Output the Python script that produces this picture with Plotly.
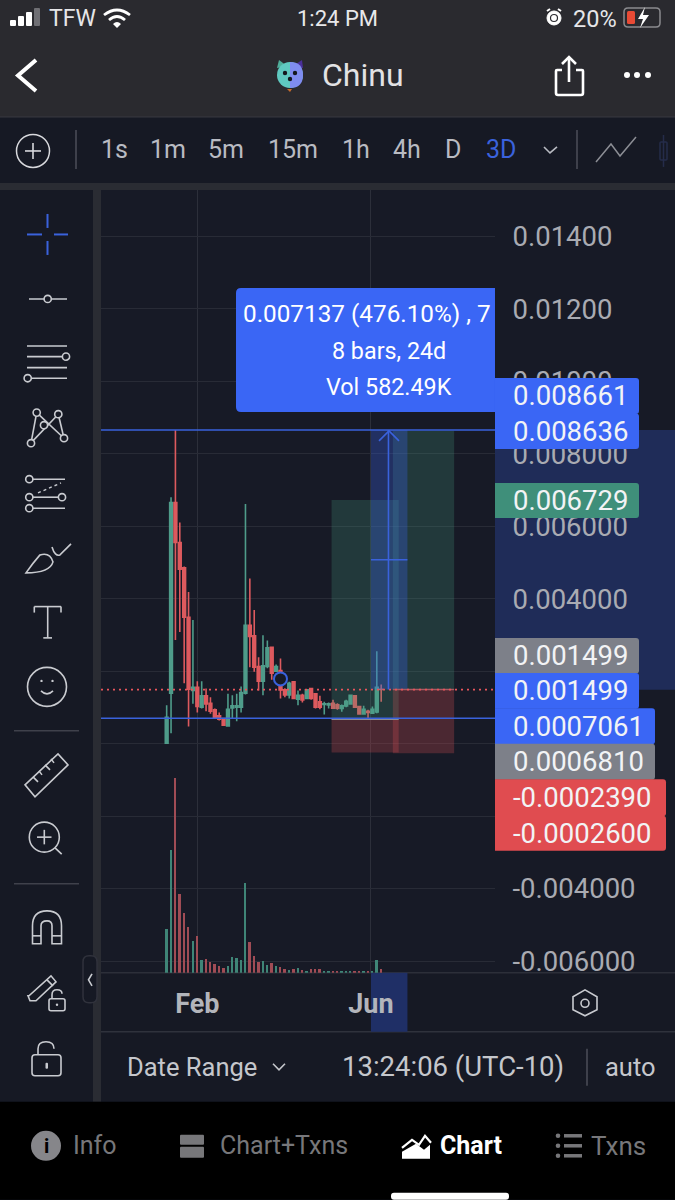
import re
import pandas as pd
import plotly.graph_objects as go

# ---------- data ----------
opens = [0.00002,0.001398,0.006658,0.005554,0.004855,0.003495,0.001472,0.001564,0.001012,0.001325,
         0.001122,0.000938,0.000773,0.000699,0.000497,0.000994,0.001012,0.001012,0.001398,0.003274,
         0.00298,0.002134,0.001729,0.002134,0.002667,0.002005,0.002023,0.00149,0.001352,0.001711,
         0.001233,0.001343,0.001251,0.001527,0.00138,0.001159,0.001085,0.001076,0.001122,0.001076,
         0.000975,0.001049,0.001104,0.001325,0.00103,0.000828,0.000902,0.000847,0.000883,0.001508]
highs = [0.001067,0.006805,0.008661,0.006106,0.004892,0.004193,0.003421,0.001729,0.001729,0.001527,
         0.001288,0.000975,0.000865,0.000718,0.00138,0.001343,0.00138,0.001582,0.006621,0.004561,
         0.003697,0.002391,0.002998,0.002851,0.002685,0.002189,0.002354,0.001536,0.001711,0.001729,
         0.001472,0.00138,0.001508,0.001545,0.001398,0.001325,0.001159,0.001141,0.001214,0.001122,
         0.001085,0.001214,0.001352,0.001343,0.001049,0.001049,0.000938,0.00103,0.002557,0.001637]
lows  = [0.00002,0.000295,0.002869,0.00309,0.001674,0.000479,0.001104,0.000865,0.000975,0.000902,
         0.000828,0.000699,0.000644,0.000497,0.000479,0.000699,0.000626,0.000865,0.001361,0.002115,
         0.001987,0.001472,0.001343,0.002088,0.001766,0.001987,0.001251,0.001288,0.001251,0.001233,
         0.001067,0.001141,0.001233,0.001214,0.000975,0.000957,0.00081,0.000975,0.000975,0.000938,
         0.000883,0.001012,0.001095,0.000994,0.00081,0.00081,0.000681,0.000828,0.000847,0.001159]
closes = [0.000736,0.006658,0.005554,0.004819,0.003495,0.001508,0.001564,0.00103,0.001325,0.001104,
          0.000902,0.000736,0.000681,0.000515,0.000957,0.001049,0.001049,0.001416,0.003274,0.002961,
          0.002115,0.001729,0.002152,0.002649,0.00195,0.002134,0.00149,0.001352,0.001674,0.001251,
          0.001343,0.001214,0.00149,0.001251,0.001012,0.001012,0.001104,0.001104,0.000984,0.000984,
          0.001049,0.001177,0.001343,0.001012,0.000828,0.000957,0.000865,0.000957,0.001564,0.001499]
volumes_k = [894,2505,3967,1611,1219,934,657,758,257,291,
             223,190,135,108,135,332,298,271,1828,623,
             352,230,244,169,196,149,129,81,68,74,
             108,61,47,88,81,81,47,41,41,41,
             41,41,34,41,41,41,41,41,257,81]
start_date = "2021-01-11"
month_ticks = ["2021-02-01", "2021-05-31"]
month_labels = ["Feb", "Jun"]
price_ticks = [0.014,0.012,0.01,0.008,0.006,0.004,0.002,0,-0.002,-0.004,-0.006]
price_labels = ["0.01400","0.01200","0.01000","0.008000","0.006000","0.004000","0.002000","0.000000","-0.002000","-0.004000","-0.006000"]

entry_a, top_a, stop_a, stop_line_a = 0.0007061, 0.006729, -0.0002390, 0.0006810
entry_b, top_b, stop_b = 0.001499, 0.008636, -0.0002600
range_top, range_bottom = 0.008661, 0.001499
last_price = 0.001499
circle_date, circle_price = "2021-03-30", 0.001793
tags = [("0.008661",378,414,639,"#3a66f5"),("0.008636",413.5,449,639,"#3a66f5"),
        ("0.006729",483,518,639,"#3f8f7a"),("0.001499",638,673.5,639,"#7d8089"),
        ("0.001499",673,709,639,"#3a66f5"),("0.0007061",708.5,744.5,655,"#3a66f5"),
        ("0.0006810",744,780,655,"#7d8089"),("-0.0002390",779.5,816.5,666,"#e04c50"),
        ("-0.0002600",816,851,666,"#e04c50")]
intervals = [("1s",114),("1m",168),("5m",226),("15m",293),("1h",356),("4h",407),("D",453)]

# ---------- palette ----------
W, H = 675, 1200
KY = 1.004
BG = "#161924"; HEADER = "#2a2a2f"; GAP = "#2a2c33"; GRID = "#282b36"
UP = "#4f9c8a"; DOWN = "#dd5a5e"; UPV = "#3f8577"; DOWNV = "#a04c55"
BLUE = "#3a62dc"; ICON = "#c9cbd0"; FONT = "Roboto"

dates = pd.date_range(start_date, periods=len(opens), freq="3D")
shapes, notes = [], []

def px(x): return x / W
def py(y): return 1 - y * KY / H

def path(d, color=None, w=1.6, fill=None, layer="above"):
    toks = re.findall(r"[MLQCZ]|-?\d+\.?\d*", d)
    out, n = [], 0
    for t in toks:
        if t.isalpha():
            out.append(t)
        else:
            out.append(f"{px(float(t)) if n % 2 == 0 else py(float(t)):.5f}")
            n += 1
    s = dict(type="path", xref="paper", yref="paper", path=" ".join(out), layer=layer,
             line=dict(color=color or "rgba(0,0,0,0)", width=w if color else 0))
    if fill: s["fillcolor"] = fill
    shapes.append(s)

def line(x0, y0, x1, y1, color=ICON, w=1.6, layer="above", dash=None):
    shapes.append(dict(type="line", xref="paper", yref="paper", x0=px(x0), x1=px(x1), y0=py(y0), y1=py(y1),
                       layer=layer, line=dict(color=color, width=w, dash=dash or "solid")))

def rect(x0, y0, x1, y1, fill, layer="below", color=None, w=0):
    shapes.append(dict(type="rect", xref="paper", yref="paper", x0=px(x0), x1=px(x1), y0=py(y0), y1=py(y1),
                       layer=layer, fillcolor=fill, line=dict(color=color or "rgba(0,0,0,0)", width=w)))

def circ(cx, cy, r, color=ICON, w=1.6, fill=None):
    shapes.append(dict(type="circle", xref="paper", yref="paper", x0=px(cx-r), x1=px(cx+r), y0=py(cy-r), y1=py(cy+r),
                       layer="above", fillcolor=fill or "rgba(0,0,0,0)", line=dict(color=color or "rgba(0,0,0,0)", width=w if color else 0)))

def text(x, y, s, size, color, anchor="left", bold=False, family=FONT):
    notes.append(dict(xref="paper", yref="paper", x=px(x), y=py(y), text=f"<b>{s}</b>" if bold else s,
                      showarrow=False, xanchor=anchor, yanchor="middle", borderpad=0, borderwidth=0,
                      font=dict(family=family, size=size, color=color)))

def rrect(x0, y0, x1, y1, r, **kw):
    path(f"M {x0+r} {y0} L {x1-r} {y0} Q {x1} {y0} {x1} {y0+r} L {x1} {y1-r} Q {x1} {y1} {x1-r} {y1} "
         f"L {x0+r} {y1} Q {x0} {y1} {x0} {y1-r} L {x0} {y0+r} Q {x0} {y0} {x0+r} {y0} Z", **kw)

# ---------- panels ----------
rect(0, 0, W, 117, HEADER)
rect(0, 117, W, 183, BG)
rect(0, 183, W, 190, GAP)
rect(0, 190, 93, 1102, BG)
rect(93, 190, 101, 1102, GAP)
rect(101, 973, W, 1102, BG)
rect(495, 190, W, 973, "#171a26")
rect(0, 1102, W, H, "#000000")
rect(495, 430, W, 690, "#1f2c58")
line(101, 973, W, 973, "#2c2f39", 1.5, "below")
line(101, 1032, W, 1032, "#2f323c", 1.5, "below")
line(0, 117, W, 117, "#3a3a40", 1, "below")
# x-axis range highlight
shapes.append(dict(type="rect", xref="x", yref="paper", x0="2021-05-31", x1="2021-06-25", y0=py(1032), y1=py(973),
                   layer="below", fillcolor="#1f2f66", line=dict(width=0)))

# ---------- chart drawing tools (data coordinates) ----------
def zone(x0, x1, y0, y1, fill, lc=None):
    shapes.append(dict(type="rect", xref="x", yref="y", x0=x0, x1=x1, y0=y0, y1=y1, layer="above",
                       fillcolor=fill, line=dict(color=lc or "rgba(0,0,0,0)", width=1 if lc else 0)))

def seg(x0, x1, y0, y1, color, w=1.5, dash="solid"):
    shapes.append(dict(type="line", xref="x", yref="y", x0=x0, x1=x1, y0=y0, y1=y1, layer="above",
                       line=dict(color=color, width=w, dash=dash)))

A0, A1 = "2021-05-04", "2021-06-19"
B0, B1 = "2021-06-15", "2021-07-27"
R0, R1, RM = "2021-05-31", "2021-06-25", "2021-06-12"
XL, XR = "2020-11-27", "2021-08-24"

zone(A0, A1, entry_a, top_a, "rgba(70,160,130,0.24)")
zone(A0, A1, stop_a, entry_a, "rgba(224,80,85,0.26)")
zone(B0, B1, entry_b, top_b, "rgba(70,160,130,0.24)")
zone(B0, B1, stop_b, entry_b, "rgba(224,80,85,0.26)")
zone(R0, R1, range_bottom, range_top, "rgba(58,98,240,0.30)")
seg(A0, A1, stop_line_a, stop_line_a, "#8a8c95", 1.5)
seg(B0, B1, entry_b, entry_b, "#a85a62", 1.5)
seg(XL, XR, last_price, last_price, "#e8555b", 1.8, "2px,4px")
seg(XL, XR, range_top, range_top, BLUE, 1.6)
seg(XL, XR, entry_a, entry_a, BLUE, 1.6)
seg(RM, RM, range_bottom, range_top, BLUE, 1.6)
seg(R0, R1, (range_top + range_bottom) / 2, (range_top + range_bottom) / 2, BLUE, 1.6)
path("M 379 441 L 389 431 L 399 441", color=BLUE, w=1.6)

# ---------- tooltip + tags ----------
path("M 241 288 L 495 288 L 495 412 L 241 412 Q 236 412 236 407 L 236 293 Q 236 288 241 288 Z", fill="#3a66f5")
text(243, 314, "0.007137 (476.10%) , 7", 24.3, "#ffffff")
text(388.5, 351, "8 bars, 24d", 23.3, "#ffffff", "center")
text(388.5, 387, "Vol 582.49K", 23.3, "#ffffff", "center")
for label, y0, y1, x1, c in tags:
    path(f"M 495 {y0} L {x1-3} {y0} Q {x1} {y0} {x1} {y0+3} L {x1} {y1-3} Q {x1} {y1} {x1-3} {y1} L 495 {y1} Z", fill=c)
    text(512.5, (y0 + y1) / 2, label, 27.5, "#f2f3f5")

# ---------- status bar ----------
for x, h, c in [(13, 6, "#ffffff"), (21, 10, "#ffffff"), (29, 14, "#ffffff"), (37, 18, "#6f6f74")]:
    rrect(x - 3, 26 - h, x + 3, 26, 1, fill=c)
text(49, 19, "TFW", 23, "#e6e6e8")
path("M 104 15 Q 117 5 130 15", color="#ffffff", w=2.8)
path("M 109 20 Q 117 13 125 20", color="#ffffff", w=2.8)
path("M 113 24 L 117 28 L 121 24 Q 117 20 113 24 Z", fill="#ffffff")
text(337, 19, "1:24 PM", 22, "#e8e8ea", "center")
circ(554, 18, 7, "#ffffff", 1, "#ffffff")
circ(554, 18, 3.5, "#2a2a2f", 1.2, "#ffffff")
line(547, 11, 550, 9, "#ffffff", 2); line(561, 11, 558, 9, "#ffffff", 2)
text(573, 19, "20%", 23.5, "#e6e6e8")
rrect(624, 8, 660, 27, 4, color="#8a8a8e", w=1.5)
rrect(627, 11, 635, 24, 1.5, fill="#e84a35")
path("M 645 7 L 638 19 L 643 19 L 640 28 L 649 15 L 643 15 Z", fill="#ffffff")

# ---------- title row ----------
path("M 36 60 L 18 75.5 L 36 91", color="#ffffff", w=4)
path("M 277 68 L 279 60 L 287 66 Z", fill="#4fae9a")
path("M 293 66 L 302 60 L 303 68 Z", fill="#4a2f9a")
circ(290, 75, 13, None, 0, "#5fc9c0")
path("M 290 62 Q 303 62 303 75 Q 303 88 290 88 Z", fill="#7f8cf0")
path("M 287 89 L 292 89 L 290 92 Z", fill="#c56a2c")
circ(285, 73, 2.2, None, 0, "#14181e"); circ(295, 73, 2.2, None, 0, "#14181e")
circ(290, 79, 2.2, None, 0, "#14181e")
text(322, 75, "Chinu", 32, "#e2e2e4")
path("M 569 57 L 569 82", color="#ffffff", w=2.6)
path("M 562 64 L 569 57 L 576 64", color="#ffffff", w=2.6)
path("M 562 70 L 557 70 Q 556 70 556 71 L 556 93 Q 556 95 558 95 L 581 95 Q 583 95 583 93 L 583 71 Q 583 70 582 70 L 576 70", color="#ffffff", w=2.6)
for x in (627, 637, 648):
    circ(x, 75, 3, None, 0, "#ffffff")

# ---------- interval row ----------
circ(33, 151, 16.5, "#d8d9dd", 1.5)
line(25, 151, 41, 151, "#d8d9dd"); line(33, 143, 33, 159, "#d8d9dd")
line(76, 130, 76, 169, "#4c4e58", 1.5)
for s, x in intervals:
    text(x, 150, s, 25, "#b9bbc2", "center")
text(501, 150, "3D", 25, "#3a62dc", "center")
path("M 544 147 L 550 153 L 557 147", color="#b9bbc2", w=1.6)
line(577, 130, 577, 169, "#4c4e58", 1.5)
path("M 596 162 L 611 144 L 620 156 L 636 137", color="#8c8e95", w=1.5)
rrect(660, 142, 667, 160, 1, color="#252c4a", w=1.5)
line(663.5, 135, 663.5, 167, "#252c4a", 1.5)

# ---------- left toolbar ----------
for a in [(47.5, 214, 47.5, 228), (47.5, 241, 47.5, 255), (27, 234.5, 42, 234.5), (54, 234.5, 68, 234.5)]:
    line(*a, BLUE, 2)
line(29, 299, 67, 299); circ(47.7, 299, 3.6, ICON, 1.6, BG)
for y in (346, 356.7, 367.7, 378.3):
    line(27, y, 67, y)
circ(66, 356.7, 3.6, ICON, 1.6, BG); circ(27.7, 378.3, 3.6, ICON, 1.6, BG)
line(31, 443, 36.7, 412.7); line(36.7, 412.7, 64, 438.3); line(31, 443, 58.3, 414.3); line(58.3, 414.3, 64, 438.3)
for c in [(36.7, 412.7), (58.3, 414.3), (44, 425.3), (64, 438.3), (31, 443.3)]:
    circ(*c, 3.6, ICON, 1.6, BG)
line(30, 479.3, 65, 479.3); line(30, 497.3, 62, 497.3); line(30, 508.3, 65, 508.3)
line(38, 493, 61, 483, ICON, 1.4, "above", "dot")
for c in [(29.3, 479.3), (29.3, 497.3), (62, 497.3), (29.3, 508.3)]:
    circ(*c, 3.6, ICON, 1.6, BG)
path("M 26 573 Q 33 563 40 555 Q 50 552 53 562 Q 50 573 26 573 Z", color=ICON)
path("M 52 547 Q 55 557 60 555 L 71 544", color=ICON)
line(34.3, 612.7, 34.3, 606.7); line(34.3, 606.7, 61, 606.7); line(61, 606.7, 61, 612.7)
line(47.7, 606.7, 47.7, 638); line(43.3, 638, 52, 638)
circ(47, 687, 19.5)
circ(41.5, 681, 1.2, None, 0, ICON); circ(52.5, 681, 1.2, None, 0, ICON)
path("M 41 691 Q 47 697 53 691", color=ICON)
line(14, 731, 79, 731, "#3f414b", 1.5)
path("M 25 785 L 58 754 L 68 765 L 35 797 Z", color=ICON)
for a in [(33, 777, 38, 782), (39, 771, 42, 775), (45, 765, 50, 770), (51, 759, 54, 763)]:
    line(*a)
circ(44.3, 837.3, 15); line(55, 848, 61.7, 854.3)
line(37, 837.3, 51.5, 837.3); line(44.3, 830, 44.3, 844.5)
line(14, 884, 79, 884, "#3f414b", 1.5)
path("M 32.5 944 L 32.5 926 Q 32.5 911 47 911 Q 61.5 911 61.5 926 L 61.5 944 L 52 944 L 52 926 Q 52 921 47 921 Q 41 921 41 926 L 41 944 Z", color=ICON)
line(32.5, 936, 41, 936); line(52, 936, 61.5, 936)
path("M 28 996 L 30 1001 L 36 1001 L 56 982 L 51 976 L 29 996 Z", color=ICON)
line(47, 980, 53, 986)
rrect(49, 999, 65, 1011, 2, color=ICON)
path("M 52 999 L 52 995 Q 52 990 57 990 Q 62 990 62 994", color=ICON)
circ(57, 1005, 1.2, None, 0, ICON)
rrect(32, 1055, 61, 1076, 3, color=ICON)
path("M 38 1055 L 38 1049 Q 38 1042 46 1042 Q 54 1042 54 1049", color=ICON)
rrect(45.5, 1063, 48, 1069, 1, fill=ICON)
rrect(83, 956, 97, 1003, 6, color="#30323c", w=1.5, fill=BG)
path("M 92 974 L 88.5 980 L 92 986", color=ICON)

# ---------- lower bars ----------
path("M 585 990 L 597 997 L 597 1010 L 585 1016 L 573 1010 L 573 997 Z", color="#c9cbd0", w=1.6)
circ(585, 1003.5, 4)
text(127, 1067, "Date Range", 25.5, "#c5c7cc")
path("M 273 1064 L 279 1070 L 285 1064", color="#c5c7cc")
text(342, 1067, "13:24:06 (UTC-10)", 27.5, "#c5c7cc")
line(587, 1049, 587, 1086, "#4c4e58", 1.5)
text(605, 1067, "auto", 25.5, "#c5c7cc")

circ(46, 1146, 15, None, 0, "#86868a")
text(46, 1146, "i", 20, "#000000", "center", True)
text(73, 1146, "Info", 25, "#77777a")
rrect(180, 1135, 204, 1145, 1, fill="#77777a")
rrect(180, 1147, 204, 1158, 1, fill="#77777a")
text(220, 1146, "Chart+Txns", 25, "#77777a")
path("M 402 1159 L 402 1152 L 416 1144 L 424 1150 L 430 1145 L 430 1159 Z", fill="#ffffff")
path("M 402 1148 L 412 1140 L 419 1145 L 425 1136 L 431 1143", color="#ffffff", w=2.2)
text(440, 1146, "Chart", 25, "#ffffff", bold=True)
for y in (1136, 1146, 1156):
    circ(558, y, 2.3, None, 0, "#77777a")
    line(564, y, 582, y, "#77777a", 3.5)
text(591, 1146, "Txns", 26, "#77777a")
rrect(391, 1193, 509, 1200, 3, fill="#ffffff")

# ---------- figure ----------
fig = go.Figure()
fig.add_trace(go.Bar(x=dates, y=volumes_k, yaxis="y2", width=110000000,
                     marker=dict(color=[UPV if c >= o else DOWNV for o, c in zip(opens, closes)], line=dict(width=0)),
                     hoverinfo="skip", showlegend=False))
fig.add_trace(go.Candlestick(x=dates, open=opens, high=highs, low=lows, close=closes, whiskerwidth=0,
                             increasing=dict(line=dict(color=UP, width=1.6), fillcolor=UP),
                             decreasing=dict(line=dict(color=DOWN, width=1.6), fillcolor=DOWN),
                             showlegend=False))
fig.add_trace(go.Scatter(x=[circle_date], y=[circle_price], mode="markers", showlegend=False,
                         marker=dict(size=13, color="#171a26", line=dict(color=BLUE, width=2))))

fig.update_layout(
    width=W, height=H, autosize=False, margin=dict(l=0, r=0, t=0, b=0),
    paper_bgcolor="#171a26", plot_bgcolor="#171a26", showlegend=False, boxgap=0.1,
    font=dict(family=FONT), shapes=shapes, annotations=notes, bargap=0,
    xaxis=dict(domain=[px(101), px(495)], range=[XL, XR], type="date", rangeslider=dict(visible=False),
               tickmode="array", tickvals=month_ticks, ticktext=[f"<b>{m}</b>" for m in month_labels],
               ticks="outside", ticklen=7, tickcolor="rgba(0,0,0,0)",
               tickfont=dict(family=FONT, size=27, color="#b3b5bb"),
               showgrid=True, gridcolor="#2c2f3a", gridwidth=1.3, zeroline=False, showline=False, anchor="y"),
    yaxis=dict(domain=[py(973), py(190)], range=[(744 - 973) / 36250, (744 - 190) / 36250], side="right",
               tickmode="array", tickvals=price_ticks, ticktext=price_labels,
               ticks="outside", ticklen=11, tickcolor="rgba(0,0,0,0)",
               tickfont=dict(family=FONT, size=27.5, color="#a9abb2"),
               showgrid=True, gridcolor=GRID, gridwidth=1.3, zeroline=False, showline=False, anchor="x"),
    yaxis2=dict(domain=[py(973), py(190)], range=[0, 15902], overlaying="y", side="right",
                showticklabels=False, showgrid=False, zeroline=False, showline=False, anchor="x"),
)
fig.write_html("out.html", config=dict(displayModeBar=False),
               post_script="document.documentElement.style.background='#000';document.documentElement.style.overflow='hidden';"
                           "document.body.style.margin='0';document.body.style.height='1200px';document.body.style.overflow='hidden';"
                           "document.querySelectorAll('div').forEach(function(d){if(!d.closest('.svg-container')||d.classList.contains('svg-container'))d.style.display='block';});")
